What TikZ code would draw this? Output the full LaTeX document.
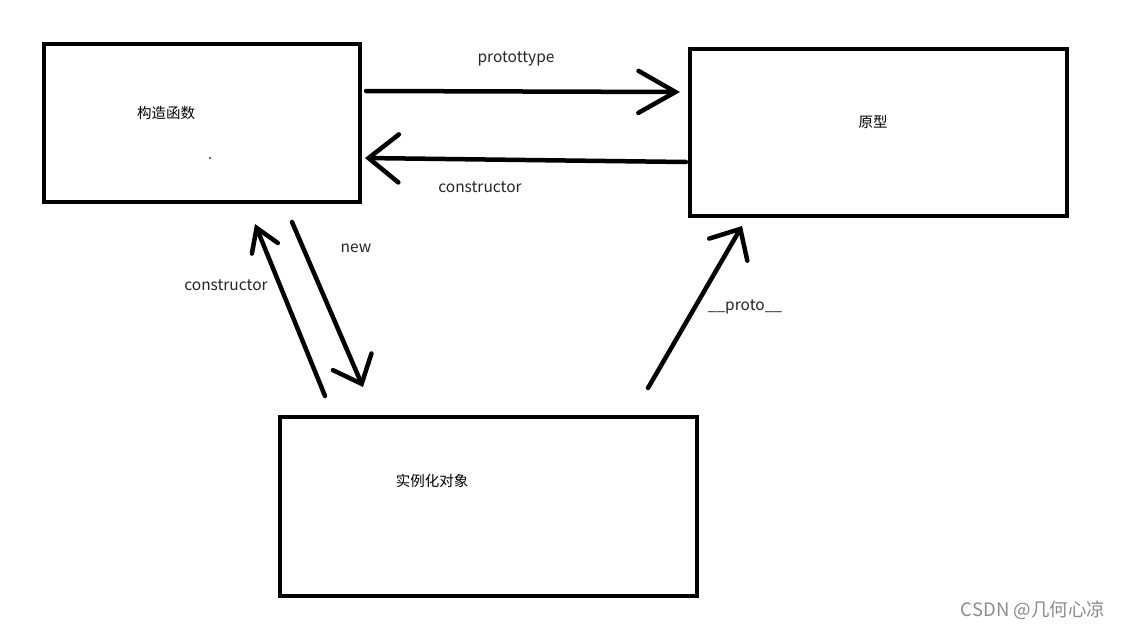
\documentclass[tikz,border=0pt]{standalone}
\usepackage{fontspec}
\setmainfont{Noto Sans CJK SC}
\usetikzlibrary{arrows.meta}
\begin{document}
\begin{tikzpicture}[x=1pt,y=-1pt,
  box/.style={draw=black,line width=4pt,inner sep=0pt},
  arr/.style={line width=4.5pt,line cap=round,draw=black},
  lbl/.style={font=\fontsize{15.5}{18}\selectfont,text=black!85,inner sep=0pt},
  cn/.style={font=\fontsize{14.5}{17}\selectfont,text=black,inner sep=0pt}]
\useasboundingbox[fill=white] (0,0) rectangle (1124,629);
% boxes
\node[box,minimum width=316pt,minimum height=158pt] (ctor) at (202,123) {};
\node[box,minimum width=377pt,minimum height=167pt] (proto) at (878.5,132.5) {};
\node[box,minimum width=417pt,minimum height=179pt] (inst) at (488.5,506.5) {};
% texts in boxes
\node[cn] (t1) at (166,113) {构造函数};
\node[fill=black!60,inner sep=0pt,minimum size=2pt] (dot) at (210,158) {};
\node[cn] (t2) at (873,122) {原型};
\node[cn] (t3) at (432,481) {实例化对象};
% endpoints
\coordinate (a1s) at (366,91);  \coordinate (a1e) at (680,92);
\coordinate (a2s) at (686,162); \coordinate (a2e) at (365,158);
\coordinate (a3s) at (292,222); \coordinate (a3e) at (363,387);
\coordinate (a4s) at (325,396); \coordinate (a4e) at (255,224);
\coordinate (a5s) at (648,388); \coordinate (a5e) at (742,226);
% arrows
\draw[arr,-{Straight Barb[length=37pt,width=42pt,line cap=round]}] (a1s) -- (a1e);
\draw[arr,-{Straight Barb[length=30pt,width=48pt,line cap=round]}] (a2s) -- (a2e);
\draw[arr,-{Straight Barb[length=24pt,width=42pt,line cap=round]}] (a3s) -- (a3e);
\draw[arr,-{Straight Barb[length=22pt,width=28pt,line cap=round]}] (a4s) -- (a4e);
\draw[arr,-{Straight Barb[length=24pt,width=44pt,line cap=round]}] (a5s) -- (a5e);
% labels
\node[lbl] (l1) at (516,59) {protottype};
\node[lbl] (l2) at (480,187) {constructor};
\node[lbl] (l3) at (356,248) {new};
\node[lbl] (l4) at (226,285) {constructor};
\node[lbl] (l5) at (745,307) {\_\_proto\_\_};
\node[font=\fontsize{18.5}{21}\selectfont,text=black!45,inner sep=0pt] (wm) at (1033,610) {CSDN @几何心凉};
\end{tikzpicture}
\end{document}
